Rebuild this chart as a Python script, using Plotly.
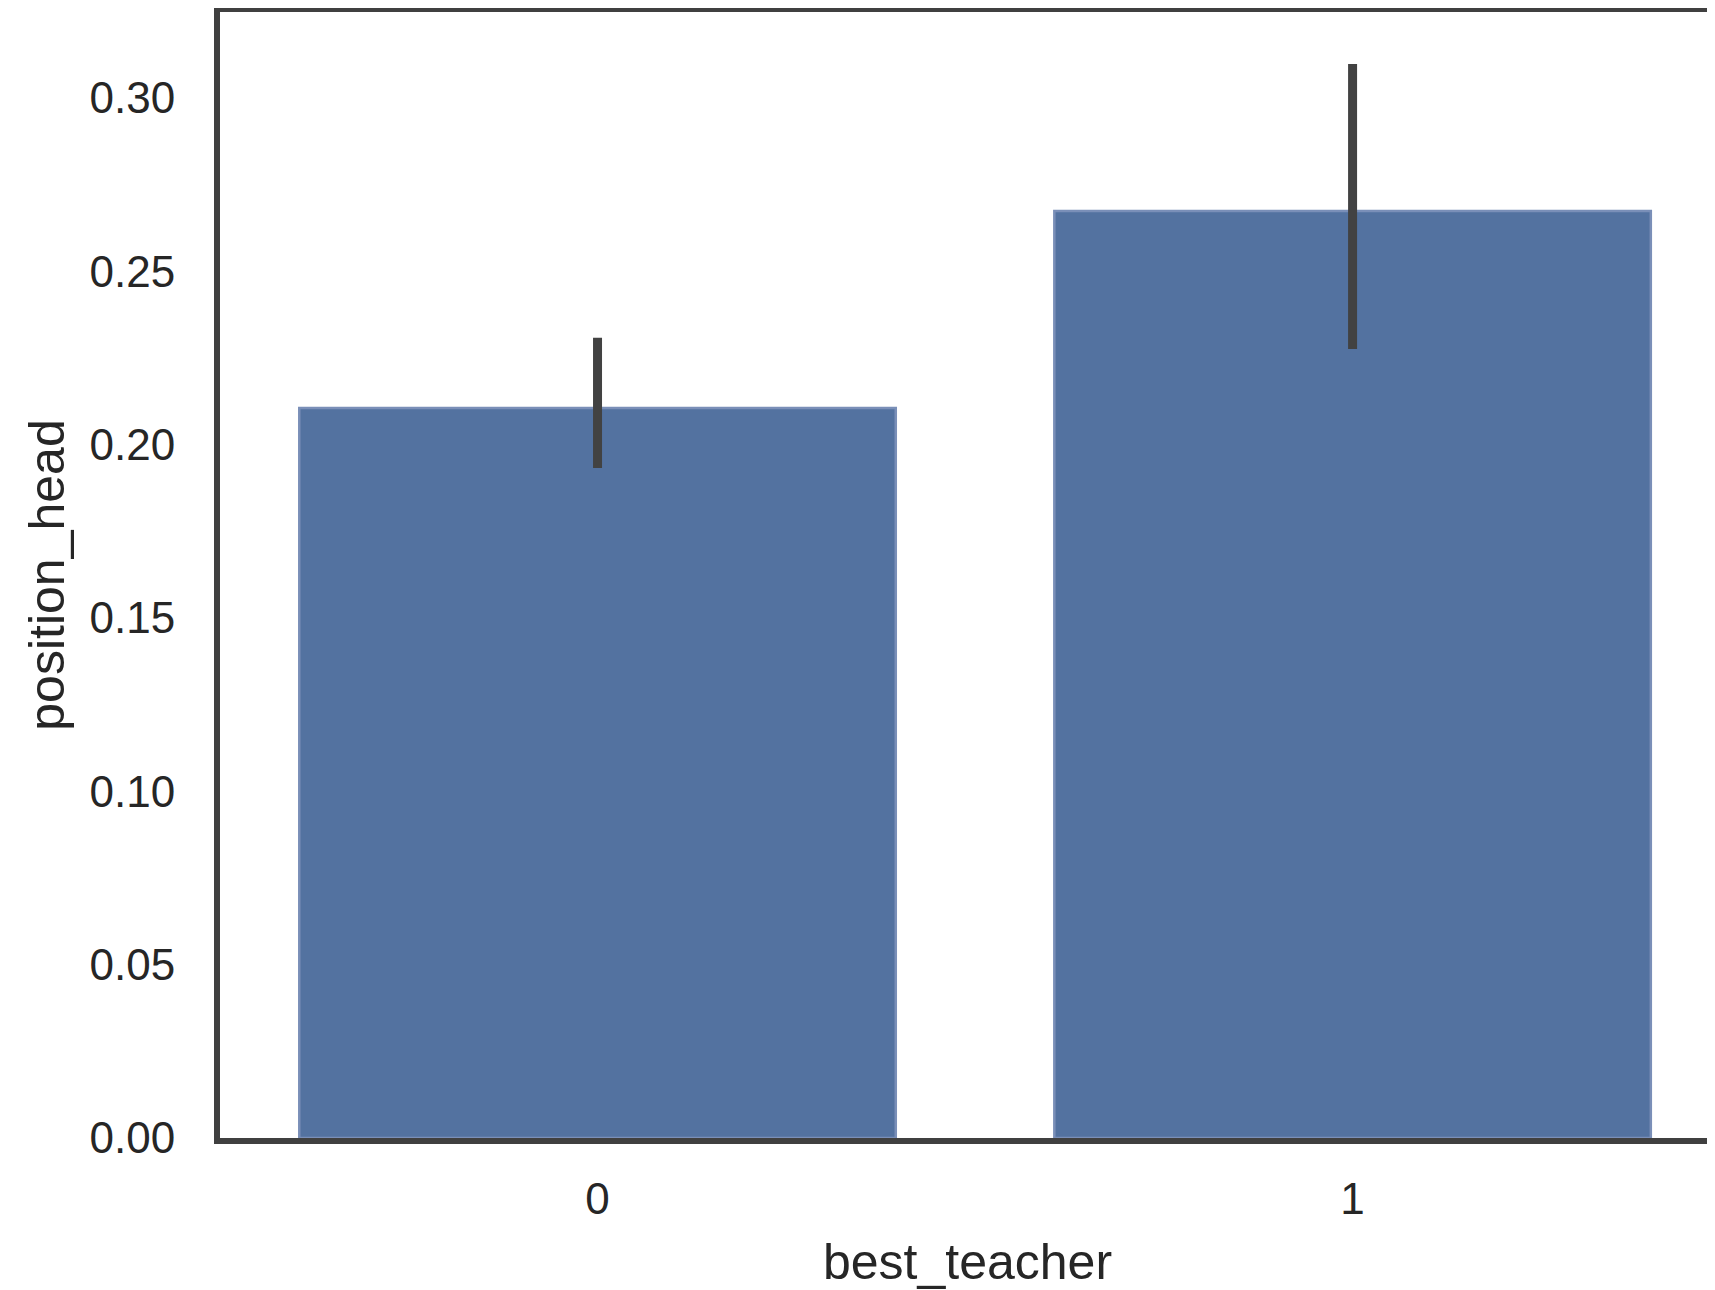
import plotly.graph_objects as go

# ── Data ───────────────────────────────────────────────────────────────────
CATEGORIES = ["0", "1"]
MEANS      = [0.2106, 0.2674]
CI_HIGH    = [0.2308, 0.3098]
CI_LOW     = [0.1933, 0.2276]
Y_TICKS    = [0.00, 0.05, 0.10, 0.15, 0.20, 0.25, 0.30]

BAR   = "#5372a0"
EDGE  = "#7a8fb8"
DARK  = "#404040"
TEXT  = "#262626"
FONT  = "Arial, Liberation Sans, sans-serif"

# page body has an 8px margin, so the figure is shifted by that much
PAGE_PAD = 8

x_pos = list(range(len(CATEGORIES)))

fig = go.Figure(go.Bar(
    x=x_pos, y=MEANS, width=0.79,
    marker=dict(color=BAR, line=dict(color=EDGE, width=2.5)),
    error_y=dict(
        type="data", symmetric=False,
        array=[h - m for h, m in zip(CI_HIGH, MEANS)],
        arrayminus=[m - l for m, l in zip(MEANS, CI_LOW)],
        color="#424242", thickness=9, width=0,
    ),
    hoverinfo="skip",
))

fig.update_layout(
    width=1715 - PAGE_PAD, height=1290 - PAGE_PAD,
    paper_bgcolor="white", plot_bgcolor="white",
    font=dict(family=FONT, color=TEXT, size=44),
    margin=dict(l=220 - PAGE_PAD, r=0, t=12 - PAGE_PAD, b=152),
    showlegend=False,
    xaxis=dict(
        range=[-0.5, 1.48], tickvals=x_pos, ticktext=CATEGORIES,
        showgrid=False, zeroline=False, automargin=False,
        showline=True, mirror=True, linecolor=DARK, linewidth=6,
        ticks="", ticklabelstandoff=17,
        tickfont=dict(size=44),
        title=dict(text="best_teacher", font=dict(size=50), standoff=33),
    ),
    yaxis=dict(
        range=[0, 0.3248], tickvals=Y_TICKS,
        ticktext=[f"{v:.2f}" for v in Y_TICKS],
        showgrid=False, zeroline=False, automargin=False,
        showline=True, mirror=False, linecolor=DARK, linewidth=6,
        ticks="", ticklabelstandoff=30,
        tickfont=dict(size=44),
        title=dict(text="position_head", font=dict(size=50), standoff=11),
    ),
)

fig.write_html("out.html")
